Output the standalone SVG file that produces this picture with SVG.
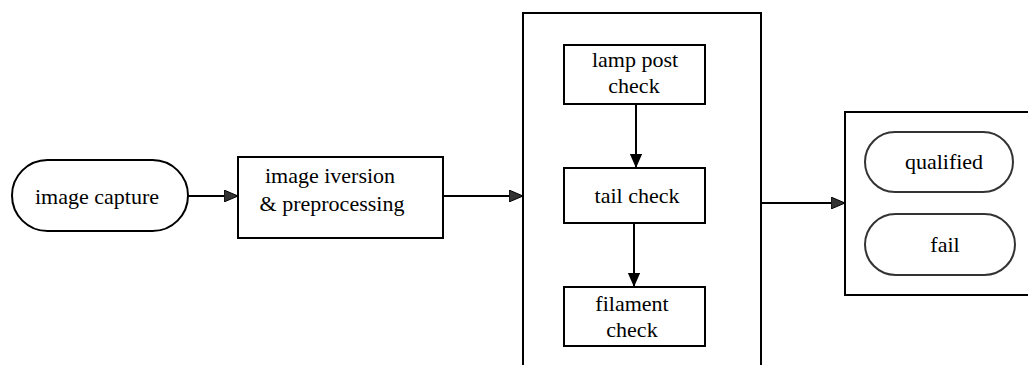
<svg xmlns="http://www.w3.org/2000/svg" width="1028" height="365" viewBox="0 0 1028 365" font-family="Liberation Serif, serif" font-size="22">
<defs>
<style>
.t{fill:#000;text-anchor:middle}
.box{fill:#fff;stroke:#000;stroke-width:2}
.pill{fill:#fff;stroke:#333;stroke-width:2}
.ln{stroke:#000;stroke-width:2;fill:none}
</style>
<marker id="ah" viewBox="0 0 14 12" refX="14" refY="6" markerWidth="14" markerHeight="12" markerUnits="userSpaceOnUse" orient="auto">
<path d="M0,0 L14,6 L0,12 Z" fill="#333" stroke="#000" stroke-width="1"/>
</marker>
<marker id="av" viewBox="0 0 14 16" refX="16" refY="7" markerWidth="16" markerHeight="14" markerUnits="userSpaceOnUse" orient="auto">
<path d="M0,0 L16,7 L0,14 Z" fill="#000"/>
</marker>
</defs>
<g id="stage">
<rect class="box" x="523" y="13" width="238" height="362"/>
</g>
<g id="result">
<rect class="box" x="845" y="112" width="200" height="183"/>
</g>
<g id="capture">
<rect class="box" x="12" y="160" width="176" height="71" rx="35.5"/>
<text class="t" font-family="Liberation Serif, serif" x="97" y="204">image capture</text>
</g>
<g id="preprocess">
<rect class="box" x="238" y="157" width="205" height="81"/>
<text class="t" font-family="Liberation Serif, serif" x="330" y="183">image iversion</text>
<text class="t" font-family="Liberation Serif, serif" x="332" y="211">&amp; preprocessing</text>
</g>
<g id="lamp">
<rect class="box" x="564" y="45" width="141" height="59"/>
<text class="t" font-family="Liberation Serif, serif" x="635" y="67">lamp post</text>
<text class="t" font-family="Liberation Serif, serif" x="634" y="93">check</text>
</g>
<g id="tail">
<rect class="box" x="564" y="168" width="141" height="55"/>
<text class="t" font-family="Liberation Serif, serif" x="637" y="203">tail check</text>
</g>
<g id="filament">
<rect class="box" x="564" y="287" width="141" height="59"/>
<text class="t" font-family="Liberation Serif, serif" x="632" y="311">filament</text>
<text class="t" font-family="Liberation Serif, serif" x="632" y="337">check</text>
</g>
<g id="qualified">
<rect class="pill" x="865" y="132" width="148" height="60" rx="30"/>
<text class="t" font-family="Liberation Serif, serif" x="944" y="169">qualified</text>
</g>
<g id="fail">
<rect class="pill" x="865" y="214" width="150" height="61" rx="30.5"/>
<text class="t" font-family="Liberation Serif, serif" x="945" y="252">fail</text>
</g>
<g id="connectors">
<line class="ln" x1="188" y1="196" x2="238" y2="196" marker-end="url(#ah)"/>
<line class="ln" x1="443" y1="196" x2="523" y2="196" marker-end="url(#ah)"/>
<line class="ln" x1="636" y1="104" x2="636" y2="168" marker-end="url(#av)"/>
<line class="ln" x1="634" y1="223" x2="634" y2="287" marker-end="url(#av)"/>
<line class="ln" x1="761" y1="203" x2="845" y2="203" marker-end="url(#ah)"/>
</g>
</svg>
